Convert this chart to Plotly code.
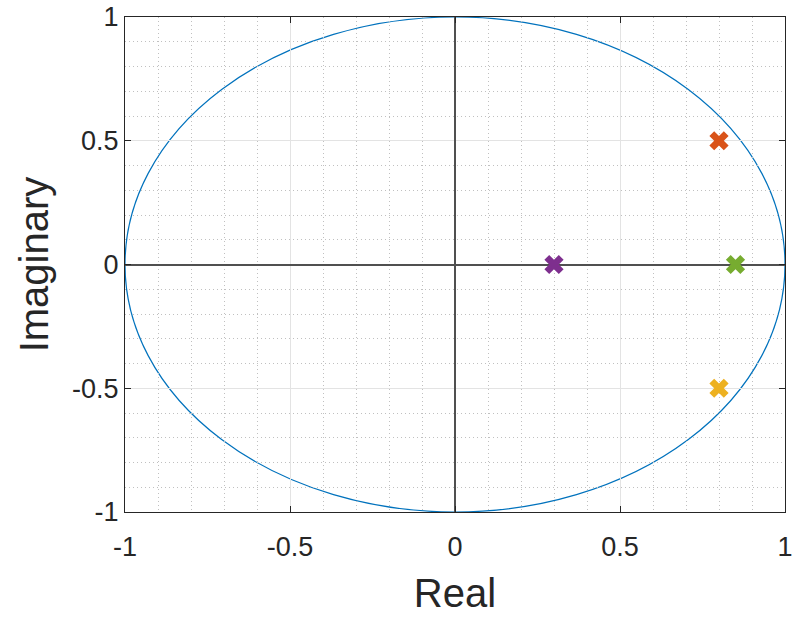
import plotly.graph_objects as go

pole_re = [0.8, 0.8, 0.85, 0.3]
pole_im = [0.5, -0.5, 0.0, 0.0]
pole_colors = ["#D95319", "#EDB120", "#77AC30", "#7E2F8E"]

tick_vals = [-1, -0.5, 0, 0.5, 1]
tick_text = ["-1", "-0.5", "0", "0.5", "1"]

FONT = "Liberation Sans, Arial, Helvetica"

fig = go.Figure()
for xr, yi, c in zip(pole_re, pole_im, pole_colors):
    fig.add_trace(go.Scatter(
        x=[xr], y=[yi], mode="markers",
        marker=dict(symbol="x", size=17, color=c, line=dict(width=0)),
        showlegend=False, cliponaxis=False))

fig.add_shape(type="circle", xref="x", yref="y", x0=-1, y0=-1, x1=1, y1=1,
              line=dict(color="#0072BD", width=1.2), layer="below")

axis_common = dict(
    range=[-1, 1], tickvals=tick_vals, ticktext=tick_text,
    showgrid=True, gridcolor="#e3e3e3", gridwidth=1,
    zeroline=True, zerolinecolor="#505050", zerolinewidth=1.8,
    showline=True, linecolor="#262626", linewidth=1.2, mirror="ticks",
    ticks="inside", ticklen=6, tickcolor="#262626",
    tickfont=dict(family=FONT, size=27, color="#262626"),
    minor=dict(dtick=0.1, showgrid=True, gridcolor="#c0c0c0", griddash="1px,3px",
               gridwidth=1, ticks=""),
    automargin=False,
    ticklabeloverflow="allow",
)

fig.update_xaxes(**axis_common, ticklabelstandoff=10,
                 title=dict(text="Real", font=dict(family=FONT, size=40, color="#262626"), standoff=18))
fig.update_yaxes(**axis_common, ticklabelstandoff=0,
                 title=dict(text="Imaginary", font=dict(family=FONT, size=40, color="#262626"), standoff=10))

fig.update_layout(
    width=792, height=617,
    margin=dict(l=125, r=7, t=17, b=105),
    plot_bgcolor="white", paper_bgcolor="white",
)

fig.write_html("out.html", config={"displayModeBar": False},
               post_script="document.body.style.margin='0';")
